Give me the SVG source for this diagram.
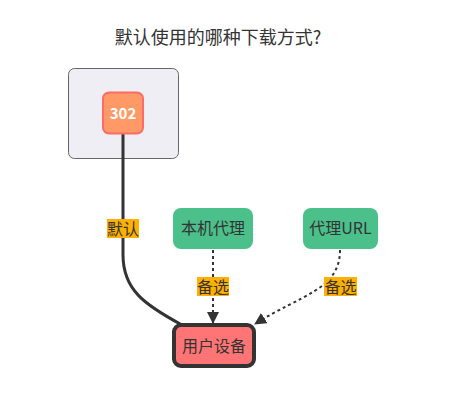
<svg xmlns="http://www.w3.org/2000/svg" width="457" height="406" viewBox="0 0 457 406">
<style>
text{font-family:"Noto Sans CJK SC","Noto Sans",sans-serif;text-anchor:middle;fill:#333}
.lbl{font-size:16px}
.lblbg{fill:#ffb000}
.dot{fill:none;stroke:#333;stroke-width:2;stroke-dasharray:3,3}
</style>
<defs>
<marker id="arr" markerUnits="userSpaceOnUse" markerWidth="12" markerHeight="12" refX="11" refY="6" orient="auto" viewBox="0 0 12 12">
<path d="M0,0 L12,6 L0,12 z" fill="#333"/>
</marker>
</defs>
<rect width="457" height="406" fill="#fff"/>
<text x="218" y="44" style="font-size:18px">默认使用的哪种下载方式?</text>
<g id="subgraph">
<rect x="68.5" y="68.5" width="110" height="90" rx="6" fill="#efeef5" stroke="#666" stroke-width="1"/>
</g>
<g id="edges">
<path d="M123,134 L123,255 C123,290 145,305 182,325" fill="none" stroke="#333" stroke-width="3"/>
<path class="dot" d="M213,250 L213,323" marker-end="url(#arr)"/>
<path class="dot" d="M340,250 C340,290 300,295 255,324" marker-end="url(#arr)"/>
<rect class="lblbg" x="107" y="219" width="32" height="19"/>
<text class="lbl" x="123" y="234.5">默认</text>
<rect class="lblbg" x="197" y="277" width="32" height="19"/>
<text class="lbl" x="213" y="292.5">备选</text>
<rect class="lblbg" x="324" y="277" width="33" height="19"/>
<text class="lbl" x="340.5" y="292.5">备选</text>
</g>
<g id="n302">
<rect x="103" y="92.5" width="40" height="41" rx="6" fill="#ff9a66" stroke="#ff6b6b" stroke-width="2"/>
<text x="123" y="118.5" style="font-size:15px;font-weight:600;fill:#fff">302</text>
</g>
<g id="local">
<rect x="173" y="208" width="80" height="41" rx="8" fill="#4bc08b"/>
<text class="lbl" x="213" y="234">本机代理</text>
</g>
<g id="proxyurl">
<rect x="303" y="208" width="75" height="41" rx="8" fill="#4bc08b"/>
<text class="lbl" x="340.5" y="234">代理URL</text>
</g>
<g id="device">
<rect x="174" y="325" width="80" height="41" rx="7" fill="#ff7575" stroke="#333" stroke-width="4"/>
<text class="lbl" x="214" y="351.5">用户设备</text>
</g>
</svg>
